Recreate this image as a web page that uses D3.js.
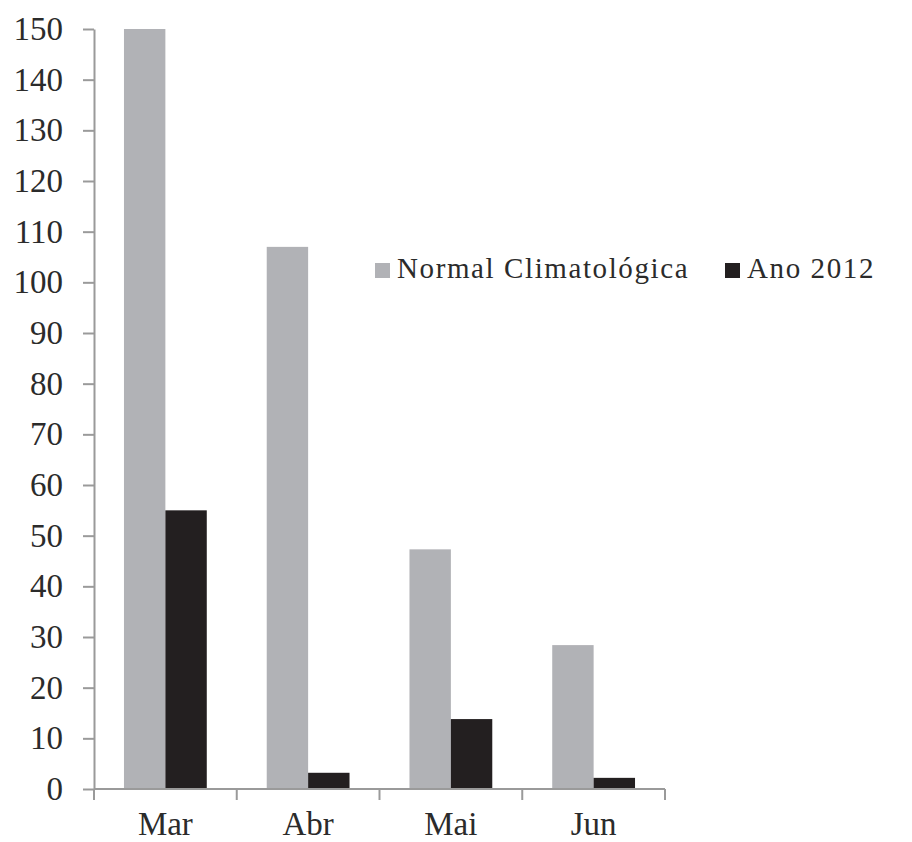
<!DOCTYPE html>
<html>
<head>
<meta charset="utf-8">
<script src="https://cdn.jsdelivr.net/npm/d3@7"></script>
<style>
  html, body { margin: 0; padding: 0; background: #fff; }
  svg { display: block; }
  text { font-family: "Liberation Serif", "Times New Roman", serif; fill: #2b2b2b; }
</style>
</head>
<body>
<svg id="chart" width="912" height="842"></svg>
<script>
// Monthly rainfall: climatological normal vs. 2012
const months = ["Mar", "Abr", "Mai", "Jun"];
const seriesNames = ["Normal Climatológica", "Ano 2012"];
const normalValues = [150, 107, 47.3, 28.4];
const year2012Values = [55, 3.2, 13.8, 2.2];
const yTicks = [0, 10, 20, 30, 40, 50, 60, 70, 80, 90, 100, 110, 120, 130, 140, 150];
const colors = ["#b1b2b6", "#231f20"];

const svg = d3.select("#chart");
const plot = { left: 94, right: 665, top: 29, bottom: 789 };

const x0 = d3.scaleBand().domain(months).range([plot.left, plot.right]).paddingInner(0).paddingOuter(0);
const bw = x0.bandwidth();
const x1 = d3.scaleBand().domain(seriesNames).range([bw * 0.21, bw * 0.79]).padding(0);
const y = d3.scaleLinear().domain([0, 150]).range([plot.bottom, plot.top]);

const rows = months.map((m, i) => ({
  month: m,
  vals: [
    { key: seriesNames[0], v: normalValues[i] },
    { key: seriesNames[1], v: year2012Values[i] }
  ]
}));

// Bars
svg.append("g").selectAll("g")
  .data(rows)
  .join("g")
  .attr("transform", d => `translate(${x0(d.month)},0)`)
  .selectAll("rect")
  .data(d => d.vals)
  .join("rect")
  .attr("x", d => x1(d.key))
  .attr("width", x1.bandwidth())
  .attr("y", d => y(d.v))
  .attr("height", d => y(0) - y(d.v))
  .attr("fill", (d, i) => colors[i]);

const axisColor = "#9a9a9a";

// Y axis
const yAxis = svg.append("g")
  .attr("transform", `translate(${plot.left},0)`)
  .call(d3.axisLeft(y).tickValues(yTicks).tickSize(11).tickPadding(20).tickSizeOuter(0));
yAxis.select(".domain").attr("stroke", axisColor).attr("stroke-width", 2);
yAxis.selectAll(".tick line").attr("stroke", axisColor).attr("stroke-width", 2);
yAxis.selectAll(".tick text")
  .attr("font-size", 33)
  .attr("font-family", "'Liberation Serif', serif")
  .attr("fill", "#2b2b2b");

// X axis: ticks sit on category boundaries
const boundaries = months.map(m => x0(m)).concat([x0(months[months.length - 1]) + bw]);
const xAxisG = svg.append("g");
xAxisG.append("line")
  .attr("x1", plot.left).attr("x2", plot.right)
  .attr("y1", y(0)).attr("y2", y(0))
  .attr("stroke", axisColor).attr("stroke-width", 2);
xAxisG.selectAll("line.tk")
  .data(boundaries)
  .join("line")
  .attr("class", "tk")
  .attr("x1", d => d).attr("x2", d => d)
  .attr("y1", y(0)).attr("y2", y(0) + 11)
  .attr("stroke", axisColor).attr("stroke-width", 2);
xAxisG.selectAll("text")
  .data(months)
  .join("text")
  .attr("x", d => x0(d) + bw / 2)
  .attr("y", 835)
  .attr("text-anchor", "middle")
  .attr("font-size", 33)
  .text(d => d);

// Legend
const legend = svg.append("g").attr("transform", "translate(375,263)");
const legendItems = [
  { name: seriesNames[0], x: 0, color: colors[0] },
  { name: seriesNames[1], x: 350, color: colors[1] }
];
const li = legend.selectAll("g").data(legendItems).join("g")
  .attr("transform", d => `translate(${d.x},0)`);
li.append("rect").attr("width", 15).attr("height", 15).attr("fill", d => d.color);
li.append("text")
  .attr("x", 22).attr("y", 15)
  .attr("font-size", 29)
  .attr("letter-spacing", 1.6)
  .text(d => d.name);
</script>
</body>
</html>
